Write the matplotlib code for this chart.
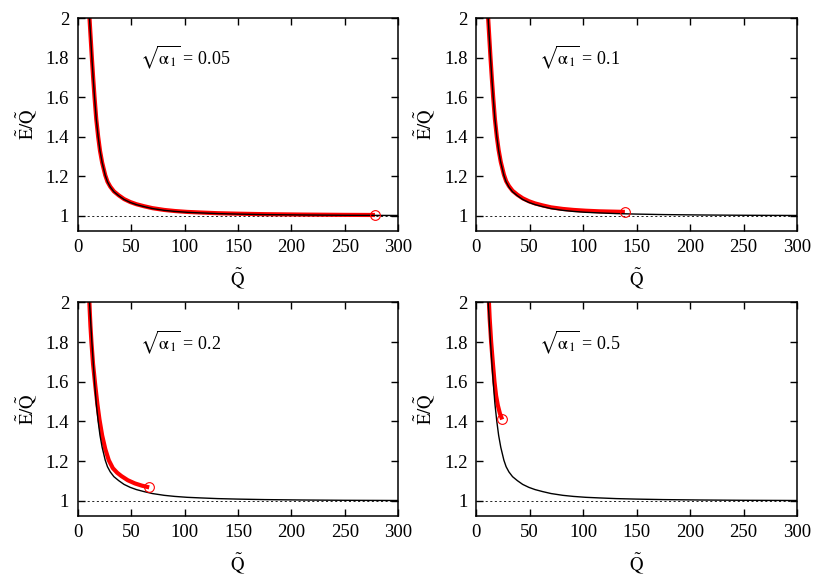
import matplotlib
matplotlib.use('Agg')
import matplotlib.pyplot as plt
from matplotlib.ticker import FuncFormatter

plt.rcParams['font.family'] = ['Liberation Serif', 'DejaVu Serif']
plt.rcParams['mathtext.fontset'] = 'stix'
plt.rcParams['font.size'] = 13.5

# black curve (same in every panel)
black_q = [10.4, 11.2, 12.3, 13.4, 14.6, 15.9, 17.5, 19.3, 21.0, 23.0, 25.9, 28.0, 30.6,
           34.0, 38.5, 43.5, 49.3, 55, 62, 70, 81, 91, 102.5, 115, 131, 150, 175, 210,
           250, 300]
black_y = [2.08, 2.0, 1.90, 1.80, 1.70, 1.60, 1.49, 1.40, 1.33, 1.27, 1.205, 1.172, 1.146,
           1.122, 1.102, 1.083, 1.068, 1.057, 1.047, 1.037, 1.028, 1.0225, 1.018, 1.015,
           1.0115, 1.009, 1.0065, 1.0045, 1.003, 1.002]

# red curves, one per panel
red1_q = [10.4, 11.2, 12.3, 13.4, 14.6, 15.9, 17.5, 19.3, 21.0, 23.0, 25.9, 28.0, 30.6,
          34.0, 38.5, 43.5, 49.3, 55, 62, 70, 81, 91, 102.5, 115, 131, 150, 175, 210,
          250, 278]
red1_y = [2.08, 2.0, 1.90, 1.80, 1.70, 1.60, 1.49, 1.40, 1.33, 1.27, 1.206, 1.173, 1.148,
          1.124, 1.104, 1.085, 1.070, 1.059, 1.049, 1.039, 1.030, 1.0245, 1.020, 1.017,
          1.0135, 1.011, 1.0085, 1.0065, 1.005, 1.0045]

red2_q = [10.4, 11.2, 12.3, 13.4, 14.6, 15.9, 17.5, 19.3, 21.0, 23.0, 25.9, 28.0, 30.6,
          34.0, 38.5, 43.5, 49.3, 55, 62, 70, 81, 91, 102.5, 115, 131, 139]
red2_y = [2.08, 2.0, 1.90, 1.80, 1.70, 1.60, 1.49, 1.40, 1.333, 1.273, 1.209, 1.176, 1.151,
          1.127, 1.107, 1.089, 1.074, 1.063, 1.053, 1.043, 1.035, 1.030, 1.026, 1.023,
          1.021, 1.020]

red3_q = [10.6, 11.4, 12.1, 13.0, 14.5, 16.5, 18.5, 20.5, 23.0, 26.0, 29.2, 33.0, 37.0,
          41.0, 47.0, 53.6, 60.0, 67.0]
red3_y = [2.06, 1.96, 1.88, 1.80, 1.69, 1.585, 1.49, 1.41, 1.33, 1.26, 1.205, 1.165, 1.142,
          1.125, 1.104, 1.088, 1.077, 1.068]

red4_q = [11.5, 12.6, 14.0, 15.5, 17.1, 18.6, 20.3, 22.2, 24.3]
red4_y = [2.05, 1.92, 1.80, 1.70, 1.60, 1.53, 1.48, 1.44, 1.41]

alpha_labels = ['0.05', '0.1', '0.2', '0.5']
red_q = [red1_q, red2_q, red3_q, red4_q]
red_y = [red1_y, red2_y, red3_y, red4_y]

x_ticks = [0, 50, 100, 150, 200, 250, 300]
y_ticks = [1, 1.2, 1.4, 1.6, 1.8, 2]

fig = plt.figure(figsize=(8.3, 5.81), dpi=100)

# axes boxes in figure fractions: left, bottom, width, height
boxes = [(0.0934, 0.6026, 0.3867, 0.366),
         (0.5737, 0.6026, 0.3867, 0.366),
         (0.0934, 0.1119, 0.3867, 0.3678),
         (0.5737, 0.1119, 0.3867, 0.3678)]

for i in range(4):
    ax = fig.add_axes(boxes[i])
    ax.axhline(1, color='black', lw=0.6, ls=(0, (2.5, 3)), zorder=1)
    ax.plot(red_q[i], red_y[i], color='red', lw=3.0, solid_capstyle='butt', zorder=2)
    ax.plot(black_q, black_y, color='black', lw=1.0, zorder=3)
    ax.plot(red_q[i][-1], red_y[i][-1], 'o', ms=7, mfc='none', mec='red', mew=0.8, zorder=4)

    ax.set_xlim(0, 300)
    ax.set_ylim(0.924, 2)
    ax.set_xticks(x_ticks)
    ax.set_yticks(y_ticks)
    ax.yaxis.set_major_formatter(FuncFormatter(lambda v, p: '%g' % v))
    ax.tick_params(direction='in', length=5, width=1.0, top=True, right=True, pad=6)
    for s in ax.spines.values():
        s.set_linewidth(1.1)

    ax.set_xlabel(r'$\mathrm{\tilde{Q}}$', labelpad=7)
    ax.set_ylabel(r'$\mathrm{\tilde{E}/\tilde{Q}}$', labelpad=5)
    ax.text(0.195, 0.815, r'$\sqrt{\mathrm{\alpha}_1}$ = ' + alpha_labels[i],
            transform=ax.transAxes, ha='left', va='center', fontsize=13)

fig.savefig('out.png', dpi=100)
